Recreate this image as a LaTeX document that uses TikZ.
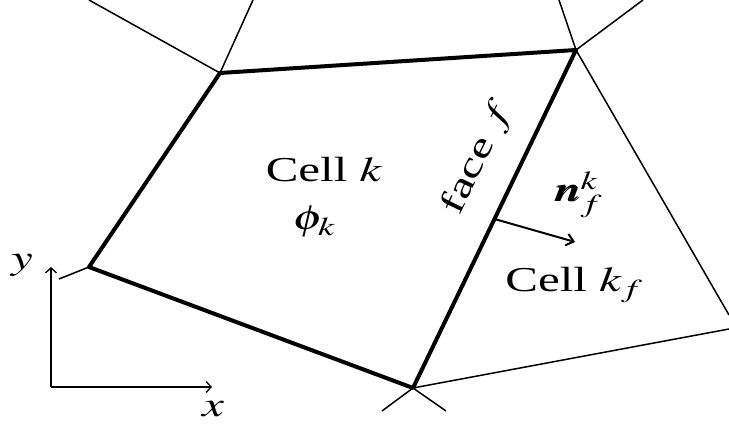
\documentclass[tikz,border=0pt]{standalone}
\usepackage{mathptmx}
\usepackage{bm}
\usepackage{fontspec}
\setmainfont{Liberation Serif}
\usetikzlibrary{arrows.meta,calc}

\begin{document}
\begin{tikzpicture}[
  x=1pt, y=1pt,
  edge/.style={line width=4pt, line cap=round, line join=round},
  mesh/.style={line width=1.5pt},
  arrow/.style={-{Straight Barb[length=7pt, width=12pt]}, line width=2pt},
  axis/.style={-{Straight Barb[length=5pt, width=11pt]}, line width=1.3pt},
  lbl/.style={font=\fontsize{35}{40}\selectfont, inner sep=0pt, xscale=1.4}
]
\useasboundingbox (0,0) rectangle (729,425);
% vertices of cell k
\coordinate (A) at (220,352);
\coordinate (B) at (576,375);
\coordinate (C) at (413,37);
\coordinate (D) at (89,158);
% neighbouring mesh lines
\coordinate (a1) at (89,425);
\coordinate (a2) at (253,425);
\coordinate (b1) at (559,425);
\coordinate (b2) at (643,425);
\coordinate (b3) at (729,110);
\coordinate (c1) at (729,96);
\coordinate (c2) at (382,14);
\coordinate (c3) at (446,14);
\coordinate (d1) at (59,146);
\draw[mesh] (A) -- (a1) (A) -- (a2);
\draw[mesh] (B) -- (b1) (B) -- (b2) (B) -- (b3);
\draw[mesh] (C) -- (c1) (C) -- (c2) (C) -- (c3);
\draw[mesh] (D) -- (d1);
% cell k
\draw[edge] (A) -- (B) -- (C) -- (D) -- cycle;
% outward normal on face f
\coordinate (fmid) at ($(C)!0.5!(B)$);
\coordinate (ntip) at (575,183);
\draw[arrow] (fmid) -- (ntip);
% axes
\coordinate (O) at (51,38);
\coordinate (xend) at (212,38);
\coordinate (yend) at (51,158);
\draw[axis] (O) -- (yend);
\draw[axis] (O) -- (xend);
% labels
\node[lbl, anchor=base] (cellk) at (324,243) {Cell $k$};
\node[lbl, anchor=base] (phik) at (314,195) {$\phi_k$};
\node[rotate=64, lbl] (facef) at (478,267) {face $f$};
\node[lbl, anchor=base] (normal) at (578,223) {$\bm{n}_f^k$};
\node[lbl, anchor=base] (cellkf) at (574,133) {Cell $k_f$};
\node[lbl, anchor=base] (ylab) at (22,155) {$y$};
\node[lbl, anchor=base] (xlab) at (213,8) {$x$};
\end{tikzpicture}
\end{document}
